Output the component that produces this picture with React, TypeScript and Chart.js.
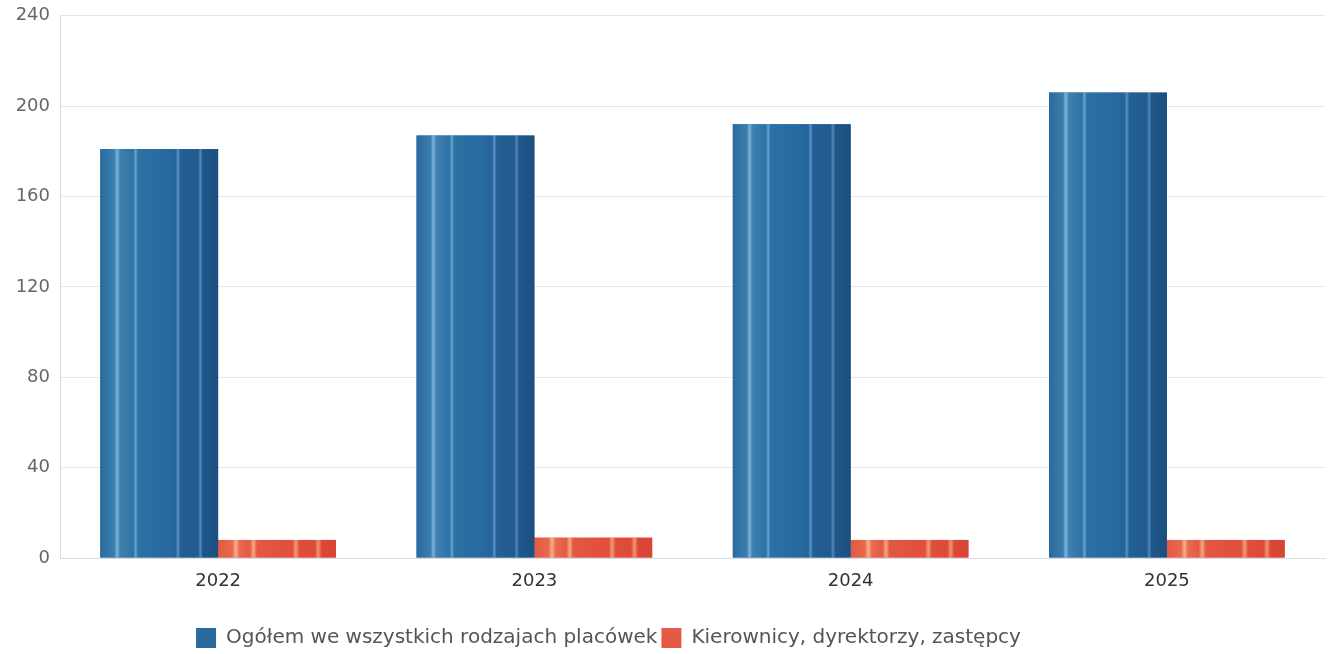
import React, { useEffect, useRef } from "react";
import { Chart, registerables } from "chart.js";

Chart.register(...registerables);

const categories = ["2022", "2023", "2024", "2025"];
const totalStaff = [181, 187, 192, 206];
const managers = [8, 9, 8, 8];
const yTicks = [0, 40, 80, 120, 160, 200, 240];
const seriesNames = [
  "Ogółem we wszystkich rodzajach placówek",
  "Kierownicy, dyrektorzy, zastępcy",
];

const FONT = "'DejaVu Sans', sans-serif";

const stripePlugin = {
  id: "stripes",
  afterLayout(chart: any) {
    const lg = chart.legend;
    if (lg) {
      lg.left -= 54;
      lg.right -= 54;
      lg.top += 4;
      lg.bottom += 4;
    }
  },
  afterDatasetDraw(chart: any, args: any) {
    const meta = chart.getDatasetMeta(args.index);
    const ctx = chart.ctx;
    const isBlue = args.index === 0;
    meta.data.forEach((el: any) => {
      const left = el.x - el.width / 2;
      const right = el.x + el.width / 2;
      const top = Math.min(el.y, el.base);
      const h = Math.abs(el.base - el.y);
      const g = ctx.createLinearGradient(left, 0, right, 0);
      if (isBlue) {
        g.addColorStop(0, "#2a6a9c");
        g.addColorStop(0.12, "#3a7fb0");
        g.addColorStop(0.14, "#7fb2d6");
        g.addColorStop(0.17, "#3c80b0");
        g.addColorStop(0.28, "#2f73a6");
        g.addColorStop(0.3, "#6aa2cc");
        g.addColorStop(0.32, "#2c70a4");
        g.addColorStop(0.55, "#286aa0");
        g.addColorStop(0.64, "#25649a");
        g.addColorStop(0.66, "#5a92c0");
        g.addColorStop(0.68, "#235f95");
        g.addColorStop(0.83, "#215b90");
        g.addColorStop(0.85, "#5088b8");
        g.addColorStop(0.87, "#1f578a");
        g.addColorStop(1, "#1c4f80");
      } else {
        g.addColorStop(0, "#e35a42");
        g.addColorStop(0.12, "#e8684e");
        g.addColorStop(0.15, "#f4b090");
        g.addColorStop(0.18, "#e96a50");
        g.addColorStop(0.27, "#e45a44");
        g.addColorStop(0.3, "#f3a886");
        g.addColorStop(0.33, "#e35842");
        g.addColorStop(0.63, "#e04f3c");
        g.addColorStop(0.66, "#f09a7e");
        g.addColorStop(0.69, "#df4e3b");
        g.addColorStop(0.82, "#dc4a38");
        g.addColorStop(0.85, "#ee9478");
        g.addColorStop(0.88, "#db4836");
        g.addColorStop(1, "#d84434");
      }
      ctx.save();
      ctx.fillStyle = g;
      ctx.fillRect(left, top, right - left, h);
      ctx.restore();
    });
  },
};

export default function App() {
  const ref = useRef<HTMLCanvasElement>(null);
  useEffect(() => {
    document.body.style.margin = "0";
    const chart = new Chart(ref.current!, {
      type: "bar",
      data: {
        labels: categories,
        datasets: [
          {
            label: seriesNames[0],
            data: totalStaff,
            backgroundColor: "#2a6a9c",
            barPercentage: 1.0,
            categoryPercentage: 0.745,
          },
          {
            label: seriesNames[1],
            data: managers,
            backgroundColor: "#e45a44",
            barPercentage: 1.0,
            categoryPercentage: 0.745,
          },
        ],
      },
      options: {
        animation: false,
        responsive: false,
        maintainAspectRatio: false,
        layout: { padding: { top: 0, right: 7, left: 0, bottom: 0 } },
        plugins: {
          tooltip: { enabled: false },
          legend: {
            position: "bottom",
            labels: {
              font: { family: FONT, size: 20 },
              color: "#555",
              boxWidth: 20,
              boxHeight: 20,
              padding: 4,
            },
          },
        },
        scales: {
          x: {
            grid: { display: false },
            border: { color: "#d8dde4", dash: [3, 2] },
            ticks: { font: { family: FONT, size: 18 }, color: "#333", padding: 5 },
            afterFit: (s: any) => {
              s.height = 62;
            },
          },
          y: {
            min: 0,
            max: 240,
            afterBuildTicks: (s: any) => {
              s.ticks = yTicks.map((v) => ({ value: v }));
            },
            afterFit: (s: any) => {
              s.width = 60;
            },
            grid: {
              color: "#e2e6ec",
              drawTicks: true,
              tickLength: 5,
              tickColor: "rgba(0,0,0,0)",
            },
            border: { color: "#d8dde4" },
            ticks: {
              font: { family: FONT, size: 18 },
              color: "#666",
              padding: 5,
            },
          },
        },
      },
      plugins: [stripePlugin],
    } as any);
    return () => chart.destroy();
  }, []);
  return (
    <div style={{ width: 1332, height: 654 }}>
      <canvas ref={ref} width={1332} height={654} style={{ display: "block" }} />
    </div>
  );
}
